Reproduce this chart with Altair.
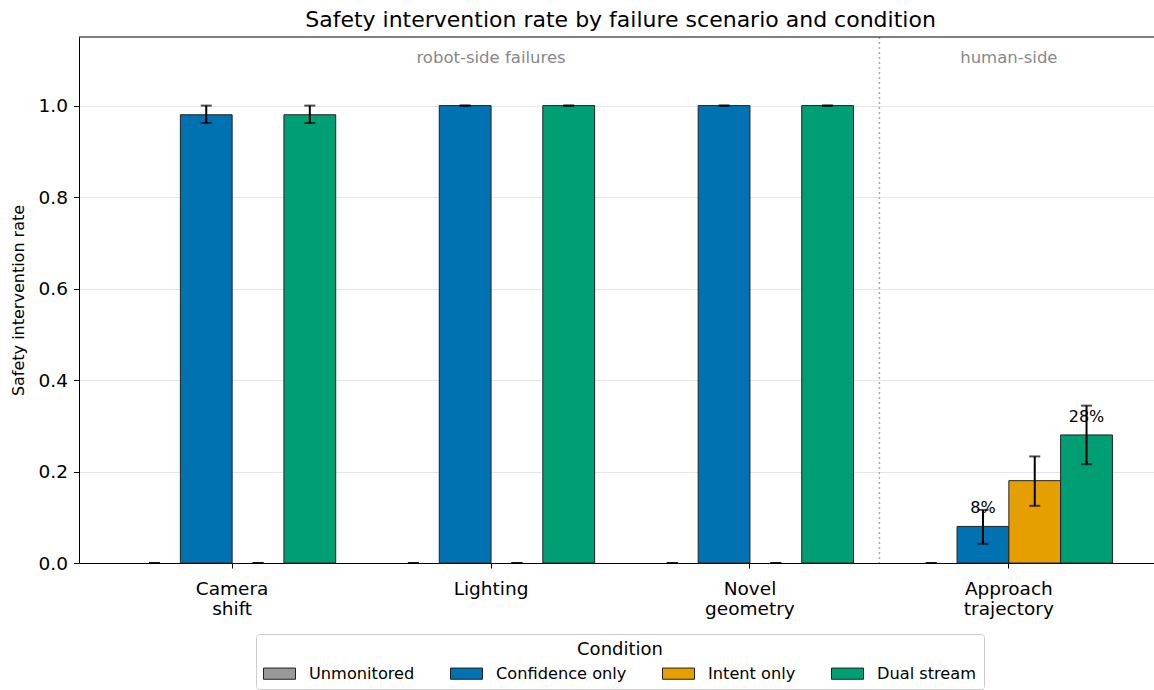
import altair as alt
import pandas as pd

categories = ["Camera shift", "Lighting", "Novel geometry", "Approach trajectory"]
conditions = ["Unmonitored", "Confidence only", "Intent only", "Dual stream"]
colors = ["#999999", "#0072B2", "#E69F00", "#009E73"]

rate_unmonitored = [0.0, 0.0, 0.0, 0.0]
rate_confidence = [0.98, 1.0, 1.0, 0.08]
rate_intent = [0.0, 0.0, 0.0, 0.18]
rate_dual = [0.98, 1.0, 1.0, 0.28]

lo_unmonitored = [0.0, 0.0, 0.0, 0.0]
lo_confidence = [0.962, 1.0, 1.0, 0.042]
lo_intent = [0.0, 0.0, 0.0, 0.125]
lo_dual = [0.962, 1.0, 1.0, 0.216]

hi_unmonitored = [0.0, 0.0, 0.0, 0.0]
hi_confidence = [1.0, 1.0, 1.0, 0.116]
hi_intent = [0.0, 0.0, 0.0, 0.233]
hi_dual = [1.0, 1.0, 1.0, 0.344]

labels_unmonitored = ["", "", "", ""]
labels_confidence = ["", "", "", "8%"]
labels_intent = ["", "", "", ""]
labels_dual = ["", "", "", "28%"]

group_cats = ["Lighting", "Approach trajectory"]
group_texts = ["robot-side failures", "human-side"]
divider_cat = ["Approach trajectory"]
y_ticks = [0.0, 0.2, 0.4, 0.6, 0.8, 1.0]

rows = []
for cond, rs, ls, hs, ts in zip(
    conditions,
    [rate_unmonitored, rate_confidence, rate_intent, rate_dual],
    [lo_unmonitored, lo_confidence, lo_intent, lo_dual],
    [hi_unmonitored, hi_confidence, hi_intent, hi_dual],
    [labels_unmonitored, labels_confidence, labels_intent, labels_dual],
):
    for cat, r, l, h, t in zip(categories, rs, ls, hs, ts):
        rows.append(dict(cat=cat, cond=cond, value=r, lo=l, hi=h, label=t))
df = pd.DataFrame(rows)

FONT = "DejaVu Sans"
YTITLE = "Safety intervention rate"

x_scale = alt.Scale(domain=categories, range=[0, 1083], paddingInner=0, paddingOuter=0.0915)
x_enc = alt.X(
    "cat:N",
    sort=categories,
    scale=x_scale,
    axis=alt.Axis(
        title=None,
        labelAngle=0,
        labelAlign="center",
        labelBaseline="top",
        labelExpr="split(datum.label, ' ')",
        labelFontSize=18.5,
        labelLineHeight=20,
        labelPadding=11,
        tickSize=5,
        grid=False,
    ),
)
xo_enc = alt.XOffset(
    "cond:N", sort=conditions,
    scale=alt.Scale(domain=conditions, paddingInner=0, paddingOuter=0.5),
)
y_scale = alt.Scale(domain=[0, 1.15], nice=False, zero=True)
y_axis = alt.Axis(
    values=y_ticks, format=".1f", labelFontSize=18.5, titleFontSize=16,
    titlePadding=12, tickSize=5.5, labelPadding=6, grid=True, gridColor="#e6e6e6",
)

base = alt.Chart(df)

bars = base.mark_bar(stroke="#222222").encode(
    x=x_enc,
    xOffset=xo_enc,
    y=alt.Y("value:Q", scale=y_scale, axis=y_axis, title=YTITLE),
    color=alt.Color(
        "cond:N",
        sort=conditions,
        scale=alt.Scale(domain=conditions, range=colors),
        legend=alt.Legend(
            orient="none", legendX=177, legendY=597, direction="horizontal",
            columns=4, title="Condition", titleAnchor="middle", titleFontSize=18,
            titleFontWeight="normal", titleFont=FONT, titlePadding=6,
            labelFontSize=16.2, labelFont=FONT, labelOffset=29, columnPadding=33,
            symbolType="M-1,-0.7H3V0.7H-1Z", symbolSize=256,
            symbolStrokeColor="#222222", symbolStrokeWidth=1, symbolOpacity=1,
            padding=7, strokeColor="#cccccc", cornerRadius=3, fillColor="white",
        ),
    ),
    strokeWidth=alt.condition("datum.value > 0", alt.value(1), alt.value(0)),
)

labels = base.mark_text(fontSize=16, dy=-18, baseline="middle", color="black", font=FONT).encode(
    x=x_enc, xOffset=xo_enc,
    y=alt.Y("value:Q", scale=y_scale, title=YTITLE),
    text="label:N",
)

err = base.mark_rule(color="black", strokeWidth=2).encode(
    x=x_enc, xOffset=xo_enc,
    y=alt.Y("lo:Q", scale=y_scale, title=YTITLE), y2="hi:Q",
)
cap_lo = base.mark_tick(color="black", thickness=2, size=11).encode(
    x=x_enc, xOffset=xo_enc, y=alt.Y("lo:Q", scale=y_scale, title=YTITLE),
)
cap_hi = base.mark_tick(color="black", thickness=2, size=11).encode(
    x=x_enc, xOffset=xo_enc, y=alt.Y("hi:Q", scale=y_scale, title=YTITLE),
)

divider = alt.Chart(pd.DataFrame({"cat": divider_cat})).mark_rule(
    color="#aaaaaa", strokeDash=[2, 3], strokeWidth=1.5
).encode(x=alt.X("cat:N", sort=categories, scale=x_scale, bandPosition=0))

groups = alt.Chart(pd.DataFrame({"cat": group_cats, "text": group_texts})).mark_text(
    color="#888888", fontSize=16.5, baseline="middle", font=FONT
).encode(x=alt.X("cat:N", sort=categories, scale=x_scale), y=alt.value(21), text="text:N")

top_frame = alt.Chart(pd.DataFrame({"cat": divider_cat})).mark_rule(
    color="black", strokeWidth=1
).encode(y=alt.value(0))

chart = alt.layer(divider, bars, labels, err, cap_lo, cap_hi, groups, top_frame).properties(
    width=1075,
    height=526,
    padding={"left": 79, "top": 37, "right": 0, "bottom": 127},
    autosize=alt.AutoSizeParams(type="none"),
    title=alt.TitleParams(
        "Safety intervention rate by failure scenario and condition",
        fontSize=22, font=FONT, fontWeight="normal", anchor="middle",
        frame="group", baseline="alphabetic", offset=10.3, dx=4, dy=23, color="black",
    ),
).configure_view(stroke=None).configure_axis(
    domainColor="black", tickColor="black", labelColor="black", titleColor="black",
    labelFont=FONT, titleFont=FONT, titleFontWeight="normal", domainWidth=1,
)

chart.save("out.html", embed_options={"renderer": "svg", "actions": False})
